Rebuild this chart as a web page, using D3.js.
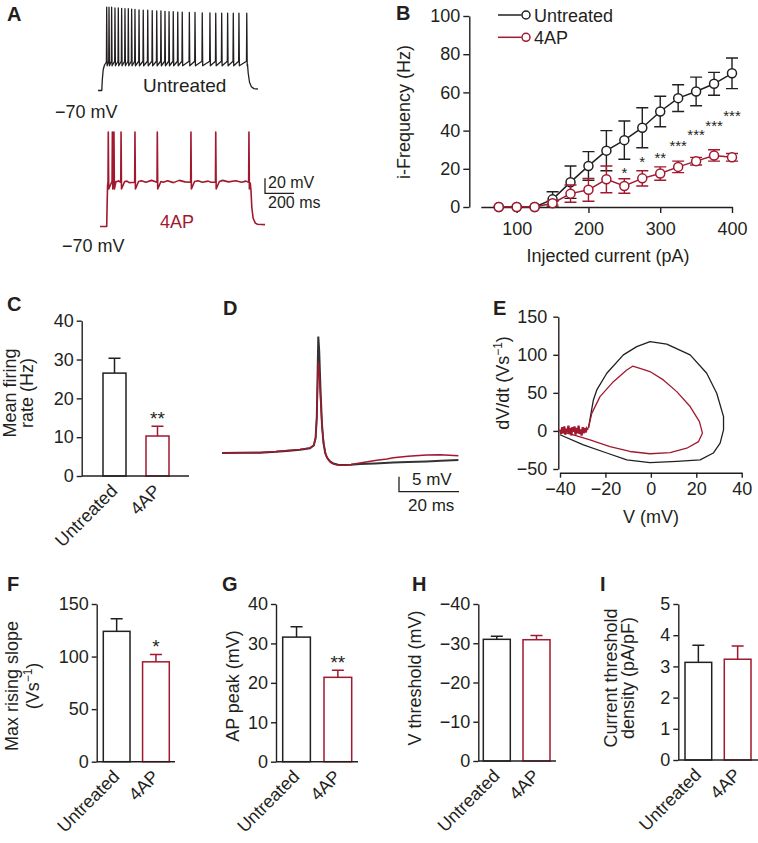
<!DOCTYPE html>
<html><head><meta charset="utf-8">
<script src="https://cdn.jsdelivr.net/npm/d3@7"></script>
<style>
body{margin:0;background:#fff;}
svg text{font-family:"Liberation Sans",Arial,Helvetica,sans-serif;}
</style></head><body>
<svg id="fig" width="758" height="843"></svg>
<script>
// ================= DATA =================
const groups = ["Untreated", "4AP"];

// Panel A – spike trains (ms, mV)
const untreatedSpikeTimes = [60,76,94,117,140,163,186,209,232,255,283,312,343,374,405,434,462,490,519,550,581,630,669,719,772,812,853,894,933,972,1026];
const untreatedSpikePeaks = [41,41,41,40,40,39.5,39,39,38.5,38,37.5,37,37,36.5,36,36,35.5,35,35,34.5,34.5,34,34,33.5,33.5,33,33,33,33,33,33];
const untreatedStepOn  = [[0,-70],[26,-70],[30,-55],[36,-42],[45,-36],[55,-33]];
const untreatedStepOff = [[1031,-35],[1036,-47],[1045,-59],[1058,-65],[1075,-67.5],[1103,-68]];
const apSpikeTimes = [71,99,110,159,255,409,641,812,1041];
const apSpikePeaks = [56,56,56,56,56,56,56,56,56];
const apStepOn  = [[14,-70],[60,-70],[63,-40],[66,-15],[69,-11]];
const apStepOff = [[1050,-12],[1055,-22],[1061,-45],[1070,-59],[1085,-65.5],[1100,-67],[1152,-67.5]];
const apPlateauWobble = [[140,-9],[200,-9.5],[215,-11.5],[300,-9],[330,-11],[370,-8.5],[450,-11],[480,-9],[520,-11.5],[560,-8.5],[600,-10.5],[690,-9],[720,-11],[760,-9.5],[780,-11],[860,-8.5],[900,-10.5],[950,-9],[990,-11],[1020,-9.5]];

// Panel B – i-Frequency vs injected current
const currents       = [75,100,125,150,175,200,225,250,275,300,325,350,375,400];
const freqUntreated  = [0,0,0,4,13,21.5,29.5,35,41.5,50,57,60.5,64.5,70];
const semUntreated   = [0,0,0,4,8.5,7.5,10.5,10,10.5,8,7,7.5,6,8];
const freq4AP        = [0,0,0,2,7,9,14.5,11,15,17.5,21,24,27,26];
const sem4AP         = [0,0,0,1,4.5,6,7,3.8,4,3.5,3,2,3,2];
const starCurrents   = [250,275,300,325,350,375,400];
const starHeights    = [20,25.6,28,34,40,44.7,50];
const starLabels     = ["*","*","**","***","***","***","***"];
const freqTicks      = [0,20,40,60,80,100];
const currentTicks   = [100,200,300,400];

// Panel C – mean firing rate (Hz)
const firingMean = [26.5, 10.3];
const firingSem  = [3.8, 2.5];
// Panel D – averaged AP waveforms (ms, mV relative to baseline)
const dUntreated = [[0,0],[6,0.1],[12.7,0.1],[18,0.4],[21.6,0.7],[26,1.1],[29.3,1.6],[30.6,2.5],[31.2,5],[31.6,12],[31.9,28],[32.1,38.8],[32.4,34],[32.8,22],[33.3,10],[33.8,3.5],[34.4,0],[35,-1.5],[36,-2.8],[37.1,-3.5],[38.7,-3.9],[40.4,-4],[43,-3.9],[46,-3.7],[51,-3.5],[57.1,-3.2],[62,-3],[68.2,-2.8],[73,-2.6],[78.8,-2.3]];
const d4AP = [[0,0],[6,0.1],[12.7,0.2],[18,0.5],[21.6,0.8],[26,1.2],[29.3,1.7],[30.6,2.6],[31.2,5],[31.6,12],[31.9,24],[32.1,30.4],[32.4,27],[32.9,17],[33.4,8],[34,2.5],[34.6,-0.5],[35.3,-2],[36.3,-3.2],[37.5,-3.8],[39,-4.1],[40.6,-4.1],[43,-3.8],[46,-3.3],[49,-2.8],[51.6,-2.4],[55,-2],[57.1,-1.6],[62,-1.1],[68.2,-0.7],[72.7,-0.6],[78.8,-0.9]];
// Panel E – phase plots (V mV, dV/dt Vs-1)
const eUntreated = [[-27.5,3.5],[-25.3,40.7],[-23.8,53.8],[-19.4,75.7],[-12.1,99.8],[-6.2,110.7],[-0.35,117.2],[7,114],[17.3,99.8],[24.6,75.7],[29,49.5],[32,18.8],[32,1.3],[30.5,-16],[27.5,-29],[21.7,-38],[11.4,-40],[-0.4,-41.6],[-10.6,-38],[-19.4,-29],[-29.7,-18.4],[-40,-5]];
const e4AP = [[-27.5,3.5],[-26,23],[-22.4,45],[-16.5,64.7],[-10.6,80],[-8,85],[-4.8,82],[-0.4,78],[5.5,67],[11.4,51.6],[17.3,32],[21.4,12.2],[22.7,-3],[21,-14],[15.8,-22.7],[8.5,-28.5],[-0.4,-30],[-9.2,-27],[-18,-20.6],[-26.8,-11.8],[-35.6,-4],[-40,-1]];
const e4APNoise = [[-40,2],[-39.5,-4],[-39,5],[-38.6,-3],[-38.1,6],[-37.7,-5],[-37.2,3],[-36.8,-2],[-36.3,7],[-35.9,-4],[-35.4,4],[-35,-6],[-34.5,5],[-34.1,-1],[-33.6,6],[-33.2,-5],[-32.7,4],[-32.3,-3],[-31.8,7],[-31.4,-4],[-30.9,2],[-30.5,-6],[-30,5],[-29.6,-3],[-29.1,4],[-28.7,-2],[-28.2,3],[-27.8,1]];
const vTicksE = [-40,-20,0,20,40];
const dvTicksE = [-50,0,50,100,150];
// Panels F–I
const maxSlope = [124, 95];       const maxSlopeSem = [12, 7];
const apPeak = [31.6, 21.4];      const apPeakSem = [2.6, 1.8];
const vThreshold = [-31, -30.9];  const vThresholdSem = [0.8, 1.1];
const currentThr = [3.13, 3.23];  const currentThrSem = [0.55, 0.42];

// ================= DRAWING =================
const FONT = '"Liberation Sans",Arial,Helvetica,sans-serif';
const INK = "#231f20", RED = "#a0192f";
const colors = [INK, RED];
const fig = d3.select("#fig");

function txt(x, y, s, size, col){
  return fig.append("text").attr("x", x).attr("y", y).attr("font-size", size || 18)
    .attr("fill", col || INK).text(s);
}
function styleAxis(sel){
  sel.attr("font-family", FONT).attr("font-size", 18);
  sel.selectAll("path,line").attr("stroke", INK).attr("stroke-width", 1.4);
  sel.selectAll("text").attr("fill", INK);
}
function letter(t, x, y){
  txt(x, y, t, 20).attr("font-weight", "bold");
}
function rotLabel(lines, x0, dx, cy){
  lines.forEach((ln, i) => {
    const t = fig.append("text").attr("transform", `translate(${x0 + i*dx},${cy}) rotate(-90)`)
      .attr("text-anchor", "middle").attr("font-size", 18).attr("fill", INK);
    ln.forEach(part => {
      if (part.sup) t.append("tspan").attr("font-size", 12).attr("dy", -7).text(part.sup);
      else t.append("tspan").attr("dy", part.back ? 7 : 0).text(part.t);
    });
  });
}

// ---------- Panel A ----------
letter("A", 7, 21);
const xA = d3.scaleLinear().domain([0, 1160]).range([98, 266.2]);
const yAU = d3.scaleLinear().domain([-70, 50]).range([90.5, 0.5]);
const yAR = d3.scaleLinear().domain([-70, 50]).range([226.5, 136.5]);
function buildTrace(on, times, peaks, thr, ahp, recov, off, extra){
  const pts = on.map(d => d.slice());
  times.forEach((t, i) => {
    pts.push([t - 2, thr], [t, peaks[i]], [t + 3, ahp]);
    if (recov && i < times.length - 1) pts.push([t + recov[0], recov[1]]);
  });
  (extra || []).forEach(d => pts.push(d.slice()));
  off.forEach(d => pts.push(d.slice()));
  pts.sort((a, b) => a[0] - b[0]);
  return pts;
}
const trU = buildTrace(untreatedStepOn, untreatedSpikeTimes, untreatedSpikePeaks, -31, -37, null, untreatedStepOff);
const trR = buildTrace(apStepOn, apSpikeTimes, apSpikePeaks, -11, -20, [25, -10], apStepOff, apPlateauWobble);
fig.append("path").attr("d", d3.line().x(d => xA(d[0])).y(d => yAU(d[1]))(trU))
  .attr("fill", "none").attr("stroke", INK).attr("stroke-width", 1.3).attr("stroke-linejoin", "round");
fig.append("path").attr("d", d3.line().x(d => xA(d[0])).y(d => yAR(d[1]))(trR))
  .attr("fill", "none").attr("stroke", RED).attr("stroke-width", 1.6).attr("stroke-linejoin", "round");
txt(143, 91.5, "Untreated", 19);
txt(55, 118, "\u221270 mV", 18);
txt(160, 228, "4AP", 18, RED);
txt(62, 251.5, "\u221270 mV", 18);
// scale bar A (20 mV, 200 ms)
{
  const sx = 265, sy = 193.3;
  const h = yAR(-70) - yAR(-50), w = xA(200) - xA(0);
  fig.append("path").attr("d", `M${sx},${sy - h}V${sy}H${sx + w}`).attr("fill", "none").attr("stroke", INK).attr("stroke-width", 1.3);
  txt(268, 188, "20 mV", 16);
  txt(268, 208, "200 ms", 16);
}

// ---------- Panel B ----------
letter("B", 396, 20);
const xB = d3.scaleLinear().domain([50, 400]).range([480.8, 732]);
const yB = d3.scaleLinear().domain([0, 100]).range([207, 16]);
fig.append("g").attr("transform", "translate(469.3,0)")
  .call(d3.axisLeft(yB).tickValues(freqTicks).tickSize(6).tickPadding(3).tickSizeOuter(0)).call(styleAxis);
fig.append("g").attr("transform", "translate(0,207)")
  .call(d3.axisBottom(xB).tickValues(currentTicks).tickSize(6).tickPadding(9).tickSizeOuter(0)).call(styleAxis);
function drawSeries(vals, sems, col){
  const pts = currents.map((c, i) => ({c, v: vals[i], s: sems[i]}));
  fig.append("path").attr("d", d3.line().x(d => xB(d.c)).y(d => yB(d.v))(pts))
    .attr("fill", "none").attr("stroke", col).attr("stroke-width", 1.5);
  const eb = fig.append("g").attr("stroke", col).attr("stroke-width", 1.4).attr("fill", "none");
  pts.filter(d => d.s > 0).forEach(d => {
    const x = xB(d.c), y1 = yB(d.v + d.s), y2 = yB(d.v - d.s);
    eb.append("path").attr("d", `M${x},${y1}V${y2}M${x - 6},${y1}H${x + 6}M${x - 6},${y2}H${x + 6}`);
  });
  fig.append("g").selectAll("circle").data(pts).join("circle")
    .attr("cx", d => xB(d.c)).attr("cy", d => yB(d.v)).attr("r", 4.5)
    .attr("fill", "#fff").attr("stroke", col).attr("stroke-width", 1.5);
}
drawSeries(freqUntreated, semUntreated, INK);
drawSeries(freq4AP, sem4AP, RED);
fig.append("g").selectAll("text").data(starCurrents).join("text")
  .attr("x", d => xB(d)).attr("y", (d, i) => yB(starHeights[i]) + 9).attr("text-anchor", "middle")
  .attr("font-size", 15).attr("fill", INK).text((d, i) => starLabels[i]);
// legend
[["Untreated", INK, 15], ["4AP", RED, 37.3]].forEach(([lab, col, y]) => {
  fig.append("line").attr("x1", 498).attr("x2", 521.5).attr("y1", y).attr("y2", y).attr("stroke", col).attr("stroke-width", 1.5);
  fig.append("circle").attr("cx", 526).attr("cy", y).attr("r", 4).attr("fill", "#fff").attr("stroke", col).attr("stroke-width", 1.5);
  txt(534, y + 6.5, lab, 18, INK);
});
txt(608, 262, "Injected current (pA)", 18).attr("text-anchor", "middle");
rotLabel([[{t: "i-Frequency (Hz)"}]], 410, 0, 112);

// ---------- Bar panels ----------
function barPanel(o){
  const y = d3.scaleLinear().domain(o.domain).range([o.y0, o.yTop]);
  const x = d3.scaleBand().domain(groups).range(o.band).paddingInner(o.pad).paddingOuter(0);
  fig.append("g").attr("transform", `translate(${o.axisX},0)`)
    .call(d3.axisLeft(y).tickValues(o.ticks).tickFormat(d3.format("d")).tickSize(5).tickPadding(3).tickSizeOuter(0)).call(styleAxis);
  const sign = Math.sign(o.domain[1] - o.domain[0]);
  groups.forEach((gname, i) => {
    const bx = x(gname), bw = x.bandwidth(), cx = bx + bw / 2;
    const top = y(o.values[i]), errTop = y(o.values[i] + sign * o.sems[i]);
    fig.append("path").attr("d", `M${cx},${top}V${errTop}M${cx - 6},${errTop}H${cx + 6}`)
      .attr("stroke", colors[i]).attr("stroke-width", 1.5).attr("fill", "none");
    fig.append("rect").attr("x", bx).attr("y", top).attr("width", bw).attr("height", o.y0 - top)
      .attr("fill", "#fff").attr("stroke", colors[i]).attr("stroke-width", 1.5);
    if (o.star && o.star[i]) txt(cx, errTop - 1, o.star[i], 19, INK).attr("text-anchor", "middle");
    fig.append("text").attr("transform", `translate(${cx + 4},${o.y0 + 16}) rotate(-45)`)
      .attr("text-anchor", "end").attr("font-size", 18).attr("fill", INK).text(gname);
  });
  fig.append("line").attr("x1", o.axisX).attr("x2", o.xEnd).attr("y1", o.y0).attr("y2", o.y0)
    .attr("stroke", INK).attr("stroke-width", 1.4);
}
letter("C", 7, 311);
barPanel({values: firingMean, sems: firingSem, domain: [0, 40], ticks: [0,10,20,30,40],
  axisX: 81.7, y0: 476, yTop: 320.7, band: [103, 169], pad: 0.465, xEnd: 189, star: ["", "**"]});
rotLabel([[{t: "Mean firing"}], [{t: "rate (Hz)"}]], 16, 17, 393);

letter("F", 7, 591);
barPanel({values: maxSlope, sems: maxSlopeSem, domain: [0, 150], ticks: [0,50,100,150],
  axisX: 96.7, y0: 761.7, yTop: 604, band: [103.3, 169.3], pad: 0.32, xEnd: 175, star: ["", "*"]});
rotLabel([[{t: "Max rising slope"}], [{t: "(Vs"}, {sup: "\u22121"}, {t: ")", back: true}]], 18, 21, 686);

letter("G", 222, 591);
barPanel({values: apPeak, sems: apPeakSem, domain: [0, 40], ticks: [0,10,20,30,40],
  axisX: 276, y0: 761.7, yTop: 604, band: [282.7, 351.7], pad: 0.33, xEnd: 358, star: ["", "**"]});
rotLabel([[{t: "AP peak (mV)"}]], 238.5, 0, 686);

letter("H", 412, 591);
barPanel({values: vThreshold, sems: vThresholdSem, domain: [0, -40], ticks: [0,-10,-20,-30,-40],
  axisX: 478.3, y0: 761, yTop: 604, band: [483.3, 550], pad: 0.32, xEnd: 556});
rotLabel([[{t: "V threshold (mV)"}]], 421, 0, 678);

letter("I", 600, 591);
barPanel({values: currentThr, sems: currentThrSem, domain: [0, 5], ticks: [0,1,2,3,4,5],
  axisX: 678.3, y0: 760, yTop: 604, band: [685, 751], pad: 0.32, xEnd: 758});
rotLabel([[{t: "Current threshold"}], [{t: "density (pA/pF)"}]], 617, 16.5, 678);

// ---------- Panel D ----------
letter("D", 223, 315);
const xD = d3.scaleLinear().domain([0, 80]).range([222, 462]);
const yD = d3.scaleLinear().domain([-5, 40]).range([468, 333]);
const lineD = d3.line().x(d => xD(d[0])).y(d => yD(d[1]));
fig.append("path").attr("d", lineD(dUntreated)).attr("fill", "none").attr("stroke", "#333").attr("stroke-width", 2);
fig.append("path").attr("d", lineD(d4AP)).attr("fill", "none").attr("stroke", RED).attr("stroke-width", 1.5);
{
  const sx = 399, sy = 491.7, h = yD(0) - yD(5), w = xD(20) - xD(0);
  fig.append("path").attr("d", `M${sx},${sy - h}V${sy}H${sx + w}`).attr("fill", "none").attr("stroke", INK).attr("stroke-width", 1.3);
  txt(412, 485, "5 mV", 17);
  txt(408, 511, "20 ms", 17);
}

// ---------- Panel E ----------
letter("E", 493, 315);
const xE = d3.scaleLinear().domain([-40, 40]).range([560, 741.7]);
const yE = d3.scaleLinear().domain([-50, 150]).range([469, 316.7]);
fig.append("g").attr("transform", "translate(558.3,0)")
  .call(d3.axisLeft(yE).tickValues(dvTicksE).tickSize(5).tickPadding(6).tickSizeOuter(0)).call(styleAxis);
fig.append("g").attr("transform", "translate(0,472.7)")
  .call(d3.axisBottom(xE).tickValues(vTicksE).tickSize(5).tickPadding(5).tickSizeOuter(0)).call(styleAxis);
const lineE = d3.line().x(d => xE(d[0])).y(d => yE(d[1]));
fig.append("path").attr("d", lineE(eUntreated)).attr("fill", "none").attr("stroke", INK).attr("stroke-width", 1.3).attr("stroke-linejoin", "round");
fig.append("path").attr("d", lineE(e4AP)).attr("fill", "none").attr("stroke", RED).attr("stroke-width", 1.3).attr("stroke-linejoin", "round");
fig.append("path").attr("d", lineE(e4APNoise)).attr("fill", "none").attr("stroke", RED).attr("stroke-width", 2.2);
txt(651, 523, "V (mV)", 18).attr("text-anchor", "middle");
rotLabel([[{t: "dV/dt (Vs"}, {sup: "\u22121"}, {t: ")", back: true}]], 509, 0, 383);
</script>
</body></html>
